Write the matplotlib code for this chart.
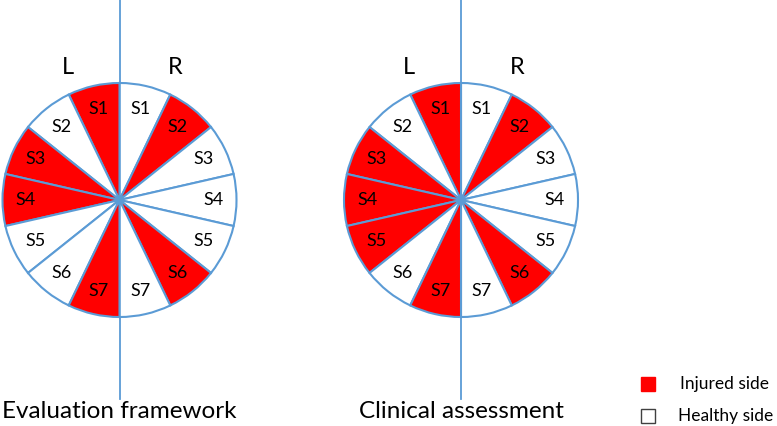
import numpy as np
import matplotlib
matplotlib.use("Agg")
import matplotlib.pyplot as plt
from matplotlib.patches import Wedge, Circle, Rectangle

plt.rcParams['font.family'] = ['Lato', 'DejaVu Sans']

segments = ["S1", "S2", "S3", "S4", "S5", "S6", "S7"]
panels = ["Evaluation framework", "Clinical assessment"]
# 1 = injured, 0 = healthy, top (S1) to bottom (S7)
eval_left = [1, 0, 1, 1, 0, 0, 1]
eval_right = [0, 1, 0, 0, 0, 1, 0]
clin_left = [1, 0, 1, 1, 1, 0, 1]
clin_right = [0, 1, 0, 0, 0, 1, 0]
legend_labels = ["Injured side", "Healthy side"]

RED = "#ff0000"
BLUE = "#5b9bd5"
W, H = 777, 426

fig = plt.figure(figsize=(7.77, 4.26), dpi=100)
ax = fig.add_axes([0, 0, 1, 1])
ax.set_xlim(0, W)
ax.set_ylim(0, H)
ax.set_aspect("equal")
ax.axis("off")


def draw_disc(cx, cy, r, left, right, title):
    w = 180.0 / len(segments)
    ax.plot([cx, cx], [H, H - 399], color=BLUE, lw=1.3, zorder=1)
    for i, lab in enumerate(segments):
        # right half, going clockwise from the top
        t1, t2 = 90 - (i + 1) * w, 90 - i * w
        ax.add_patch(Wedge((cx, cy), r, t1, t2, facecolor=RED if right[i] else "white",
                           edgecolor=BLUE, lw=1.5, zorder=2))
        a = np.radians((t1 + t2) / 2)
        ax.text(cx + 0.8 * r * np.cos(a), cy + 0.8 * r * np.sin(a), lab,
                ha="center", va="center", fontsize=13, zorder=4)
        # left half, going counterclockwise from the top
        t1, t2 = 90 + i * w, 90 + (i + 1) * w
        ax.add_patch(Wedge((cx, cy), r, t1, t2, facecolor=RED if left[i] else "white",
                           edgecolor=BLUE, lw=1.5, zorder=2))
        a = np.radians((t1 + t2) / 2)
        ax.text(cx + 0.8 * r * np.cos(a), cy + 0.8 * r * np.sin(a), lab,
                ha="center", va="center", fontsize=13, zorder=4)
    ax.add_patch(Circle((cx, cy), 3, color=BLUE, zorder=3))
    ax.text(cx - 52, H - 67, "L", ha="center", va="center", fontsize=17)
    ax.text(cx + 56, H - 67, "R", ha="center", va="center", fontsize=17)
    ax.text(cx, H - 412, title, ha="center", va="center", fontsize=17.5)


draw_disc(119.5, H - 200, 117, eval_left, eval_right, panels[0])
draw_disc(461, H - 200, 117, clin_left, clin_right, panels[1])

# legend
ax.add_patch(Rectangle((641, H - 391), 14, 14, facecolor=RED, edgecolor=RED))
ax.add_patch(Rectangle((641, H - 423), 14, 14, facecolor="white", edgecolor="#404040", lw=1))
ax.text(680, H - 384, legend_labels[0], ha="left", va="center", fontsize=12.5)
ax.text(678, H - 416, legend_labels[1], ha="left", va="center", fontsize=12.5)

fig.savefig("out.png", dpi=100)
